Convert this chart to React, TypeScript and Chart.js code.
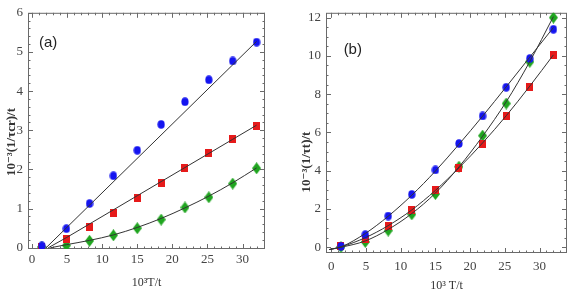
import React, { useEffect, useRef } from "react";
import { Chart, registerables } from "chart.js";

Chart.register(...registerables);

// ---------- data ----------
const xPoints = [1.4, 4.9, 8.2, 11.6, 15, 18.4, 21.8, 25.2, 28.6, 32];

// panel (a)
const blueA = [0.05, 0.49, 1.13, 1.84, 2.49, 3.15, 3.73, 4.29, 4.77, 5.25];
const redA = [0.03, 0.22, 0.53, 0.9, 1.26, 1.65, 2.04, 2.41, 2.78, 3.12];
const greenA = [0.02, 0.06, 0.18, 0.32, 0.5, 0.72, 1.03, 1.29, 1.64, 2.03];

const blueFitXA = [2.0, 32];
const blueFitA = [0, 5.27];
const redFitXA = [2.3, 4.9, 8.2, 11.6, 15, 18.4, 21.8, 25.2, 28.6, 32];
const redFitA = [0, 0.26, 0.61, 0.97, 1.33, 1.69, 2.05, 2.41, 2.77, 3.13];
const greenFitXA = [2.6, 4.9, 8.2, 11.6, 15, 18.4, 21.8, 25.2, 28.6, 32];
const greenFitA = [0, 0.08, 0.19, 0.33, 0.52, 0.75, 1.02, 1.32, 1.66, 2.04];

// panel (b)
const blueB = [0.05, 0.66, 1.63, 2.76, 4.04, 5.42, 6.86, 8.36, 9.86, 11.39];
const redB = [0.08, 0.45, 1.09, 1.97, 3.01, 4.13, 5.42, 6.86, 8.39, 10.03];
const greenB = [0.02, 0.28, 0.87, 1.72, 2.78, 4.21, 5.83, 7.51, 9.69, 12.0];

const fitXB = [-0.3, 1.4, 4.9, 8.2, 11.6, 15, 18.4, 21.8, 25.2, 28.6, 32];
const blueFitB = [-0.12, 0.02, 0.72, 1.62, 2.72, 3.98, 5.38, 6.85, 8.38, 9.93, 11.48];
const redFitB = [-0.12, 0.02, 0.5, 1.13, 1.95, 2.97, 4.15, 5.45, 6.87, 8.42, 10.05];
const greenFitB = [-0.12, 0.0, 0.33, 0.93, 1.76, 2.83, 4.2, 5.8, 7.6, 9.7, 12.05];

const xTitleA = "10³T/t";
const xTitleB = "10³ T/t";
const yTitleA = "10⁻³(1/τcr)/t";
const yTitleB = "10⁻³(1/τt)/t";
const panelA = "(a)";
const panelB = "(b)";

// ---------- styles ----------
const BLUE = "#1414f0";
const RED = "#e61a1a";
const GREEN = "#1fa51f";
const LINE = "#333333";
const FRAME = "#6a6a6a";
const SERIF = "'Liberation Serif', 'DejaVu Serif', serif";

function makeMarker(kind: string, color: string): HTMLCanvasElement {
  const c = document.createElement("canvas");
  const ctx = c.getContext("2d")!;
  if (kind === "circle") {
    c.width = 8; c.height = 9;
    ctx.fillStyle = color;
    ctx.beginPath();
    ctx.ellipse(4, 4.5, 3.6, 4.3, 0, 0, Math.PI * 2);
    ctx.fill();
  } else if (kind === "rect") {
    c.width = 7; c.height = 8;
    ctx.fillStyle = color;
    ctx.fillRect(0, 0, 7, 8);
  } else {
    c.width = 9; c.height = 12;
    ctx.fillStyle = color;
    ctx.beginPath();
    ctx.moveTo(4.5, 0);
    ctx.lineTo(9, 6);
    ctx.lineTo(4.5, 12);
    ctx.lineTo(0, 6);
    ctx.closePath();
    ctx.fill();
  }
  return c;
}

const framePlugin = {
  id: "frame",
  beforeDatasetsDraw(chart: any, _args: any, opts: any) {
    const { ctx, chartArea: a, scales } = chart;
    const xs = scales.x, ys = scales.y;
    ctx.save();
    ctx.strokeStyle = FRAME;
    ctx.lineWidth = 1;
    ctx.strokeRect(a.left + 0.5, a.top + 0.5, a.right - a.left - 1, a.bottom - a.top - 1);
    const tick = (v: number, len: number, horiz: boolean) => {
      if (horiz) {
        const p = Math.round(xs.getPixelForValue(v)) + 0.5;
        if (p < a.left || p > a.right) return;
        ctx.beginPath();
        ctx.moveTo(p, a.bottom); ctx.lineTo(p, a.bottom - len);
        ctx.moveTo(p, a.top); ctx.lineTo(p, a.top + len);
        ctx.stroke();
      } else {
        const p = Math.round(ys.getPixelForValue(v)) + 0.5;
        if (p < a.top || p > a.bottom) return;
        ctx.beginPath();
        ctx.moveTo(a.left, p); ctx.lineTo(a.left + len, p);
        ctx.moveTo(a.right, p); ctx.lineTo(a.right - len, p);
        ctx.stroke();
      }
    };
    for (let v = Math.ceil(xs.min); v <= xs.max; v += 1) {
      tick(v, v % opts.xMajor === 0 ? 5 : 2.5, true);
    }
    const n = Math.round((ys.max - ys.min) / opts.yMinor) + 2;
    const start = Math.ceil(ys.min / opts.yMinor) * opts.yMinor;
    for (let i = 0; i < n; i++) {
      const v = +(start + i * opts.yMinor).toFixed(4);
      if (v > ys.max) break;
      const major = Math.abs(v / opts.yMajor - Math.round(v / opts.yMajor)) < 1e-6;
      tick(v, major ? 5 : 2.5, false);
    }
    ctx.restore();
  },
  afterDraw(chart: any, _args: any, opts: any) {
    const { ctx, scales } = chart;
    ctx.save();
    ctx.fillStyle = "#222";
    ctx.font = "15px 'Liberation Sans', 'DejaVu Sans', sans-serif";
    ctx.textAlign = "center";
    ctx.textBaseline = "middle";
    ctx.fillText(opts.label, scales.x.getPixelForValue(opts.labelX), scales.y.getPixelForValue(opts.labelY));
    ctx.translate(opts.yTitleX, opts.yTitleY);
    ctx.rotate(-Math.PI / 2);
    ctx.font = "bold 13px " + SERIF;
    ctx.fillStyle = "#333";
    ctx.fillText(opts.yTitle, 0, 0);
    ctx.restore();
  },
};

function pts(xs: number[], ys: number[]) {
  return xs.map((x, i) => ({ x, y: ys[i] }));
}

function makeConfig(p: any) {
  const fit = (xs: number[], ys: number[]) => ({
    data: pts(xs, ys),
    showLine: true,
    borderColor: LINE,
    borderWidth: 1,
    pointRadius: 0,
    cubicInterpolationMode: "monotone",
    order: 0,
  });
  const scat = (ys: number[], marker: HTMLCanvasElement) => ({
    data: pts(xPoints, ys),
    showLine: false,
    pointStyle: marker,
    pointRadius: 4,
    order: 5,
  });
  return {
    type: "scatter",
    data: {
      datasets: [
        fit(p.bFitX, p.bFit),
        fit(p.rFitX, p.rFit),
        fit(p.gFitX, p.gFit),
        scat(p.blue, makeMarker("circle", BLUE)),
        scat(p.red, makeMarker("rect", RED)),
        scat(p.green, makeMarker("diamond", GREEN)),
      ],
    },
    options: {
      animation: false,
      responsive: false,
      events: [],
      layout: { padding: p.padding },
      plugins: {
        legend: { display: false },
        tooltip: { enabled: false },
        frame: p.frame,
      },
      scales: {
        x: {
          type: "linear",
          min: p.xMin,
          max: p.xMax,
          grid: { display: false, drawTicks: false },
          border: { display: false },
          ticks: {
            stepSize: 5,
            includeBounds: false,
            padding: p.xTickPad,
            color: "#444",
            font: { family: SERIF, size: 13 },
            maxRotation: 0,
            callback: (v: number) => String(v),
          },
          title: {
            display: true,
            text: p.xTitle,
            color: "#333",
            font: { family: SERIF, size: 12 },
            padding: { top: 0, bottom: p.xTitlePad },
          },
          afterFit: (s: any) => { s.height = p.xHeight; },
        },
        y: {
          type: "linear",
          min: p.yMin,
          max: p.yMax,
          grid: { display: false, drawTicks: false },
          border: { display: false },
          ticks: {
            stepSize: p.yStep,
            includeBounds: false,
            padding: 5,
            color: "#444",
            font: { family: SERIF, size: 13 },
            callback: (v: number) => String(v),
          },
          afterFit: (s: any) => { s.width = p.yWidth; },
        },
      },
    },
    plugins: [framePlugin],
  } as any;
}

function Panel(props: { cfg: any; left: number; width: number }) {
  const ref = useRef<HTMLCanvasElement>(null);
  useEffect(() => {
    const chart = new Chart(ref.current!, makeConfig(props.cfg));
    return () => chart.destroy();
  }, []);
  return (
    <canvas
      ref={ref}
      width={props.width}
      height={300}
      style={{ position: "absolute", left: props.left, top: 0, width: props.width, height: 300 }}
    />
  );
}

const cfgA = {
  blue: blueA, red: redA, green: greenA,
  bFitX: blueFitXA, bFit: blueFitA,
  rFitX: redFitXA, rFit: redFitA,
  gFitX: greenFitXA, gFit: greenFitA,
  xMin: -0.57, xMax: 33.2, yMin: -0.03, yMax: 6, yStep: 1,
  padding: { left: 0, right: 25, top: 7, bottom: 0 },
  yWidth: 28, xHeight: 51, xTickPad: 3, xTitlePad: 10,
  xTitle: xTitleA,
  frame: { xMajor: 5, yMajor: 1, yMinor: 0.2, label: panelA, labelX: 2.3, labelY: 5.24, yTitle: yTitleA, yTitleX: 12, yTitleY: 142 },
};

const cfgB = {
  blue: blueB, red: redB, green: greenB,
  bFitX: fitXB, bFit: blueFitB,
  rFitX: fitXB, rFit: redFitB,
  gFitX: fitXB, gFit: greenFitB,
  xMin: -0.76, xMax: 33.96, yMin: -0.3, yMax: 12.25, yStep: 2,
  padding: { left: 0, right: 3, top: 5, bottom: 0 },
  yWidth: 36, xHeight: 47, xTickPad: 6, xTitlePad: 7,
  xTitle: xTitleB,
  frame: { xMajor: 5, yMajor: 2, yMinor: 0.5, label: panelB, labelX: 3.1, labelY: 10.33, yTitle: yTitleB, yTitleX: 17, yTitleY: 162 },
};

export default function App() {
  return (
    <div style={{ position: "absolute", left: 0, top: 0, width: 572, height: 300, background: "#fff" }}>
      <Panel cfg={cfgA} left={0} width={290} />
      <Panel cfg={cfgB} left={290} width={282} />
    </div>
  );
}
